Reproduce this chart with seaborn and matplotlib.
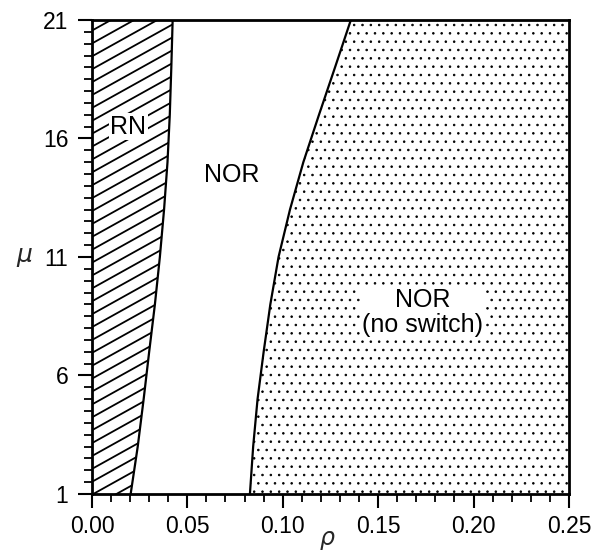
import numpy as np
import matplotlib
matplotlib.use("Agg")
import matplotlib.pyplot as plt
from matplotlib.patches import Polygon
from matplotlib.ticker import MultipleLocator, FixedLocator
import seaborn as sns

# -------------------------------
# Data
# -------------------------------
mu = [1, 3, 5, 7, 9, 11, 13, 15, 17, 19, 21]
# RN / NOR boundary
rho_left = [0.0203, 0.0240, 0.0271, 0.0300, 0.0330, 0.0356, 0.0378, 0.0396, 0.0408, 0.0416, 0.0423]
# NOR / NOR (no switch) boundary
rho_right = [0.0828, 0.0845, 0.0868, 0.0900, 0.0935, 0.0978, 0.1038, 0.1108, 0.1190, 0.1274, 0.1357]

x_ticks = [0.00, 0.05, 0.10, 0.15, 0.20, 0.25]
y_ticks = [1, 6, 11, 16, 21]

region_labels = ["RN", "NOR", "NOR\n(no switch)"]
label_pos = [(0.0190, 16.5), (0.0735, 14.45), (0.1735, 8.65)]

# -------------------------------
# Style
# -------------------------------
sns.set_style("ticks")
plt.rcParams["font.family"] = ["Liberation Sans", "DejaVu Sans"]
plt.rcParams["hatch.linewidth"] = 0.6
plt.rcParams["text.color"] = "black"

fig = plt.figure(figsize=(5.97, 5.55), dpi=100)
ax = fig.add_axes([0.154, 0.110, 0.799, 0.854])

x_min, x_max = x_ticks[0], x_ticks[-1]
y_min, y_max = y_ticks[0], y_ticks[-1]
mu_arr = np.array(mu)
left_arr = np.array(rho_left)
right_arr = np.array(rho_right)

# stippled region: NOR (no switch)
ax.fill_betweenx(mu_arr, right_arr, x_max, facecolor="white", edgecolor="black",
                 hatch="..", linewidth=0, zorder=1)

# hatched region: RN, slanted hatch lines clipped to the region
rn_poly = np.vstack([[[x_min, y_min]], np.column_stack([left_arr, mu_arr]), [[x_min, y_max]]])
clip = Polygon(rn_poly, closed=True, facecolor="white", edgecolor="none",
               transform=ax.transData, zorder=1)
ax.add_patch(clip)
slope = 0.56
for off in np.arange(-0.6, 1.05, 0.0272):
    xs = np.array([0.0, 1.0])
    ln, = ax.plot(xs, off + slope * xs, color="black", lw=1.3,
                  transform=ax.transAxes, zorder=2)
    ln.set_clip_path(clip)

# boundaries
sns.lineplot(x=left_arr, y=mu_arr, sort=False, estimator=None, color="black",
             lw=1.6, ax=ax, zorder=3)
sns.lineplot(x=right_arr, y=mu_arr, sort=False, estimator=None, color="black",
             lw=1.6, ax=ax, zorder=3)

# region labels with white backing
for txt, (px, py) in zip(region_labels, label_pos):
    ax.text(px, py, txt, ha="center", va="center", fontsize=18, linespacing=1.05,
            color="black", zorder=4,
            bbox=dict(facecolor="white", edgecolor="none", pad=1.0))

# -------------------------------
# Axes
# -------------------------------
ax.set_xlim(x_min, x_max)
ax.set_ylim(y_min, y_max)
ax.xaxis.set_major_locator(FixedLocator(x_ticks))
ax.yaxis.set_major_locator(FixedLocator(y_ticks))
ax.xaxis.set_minor_locator(MultipleLocator(0.01))
ax.yaxis.set_minor_locator(MultipleLocator(0.5))
ax.set_xticklabels([f"{v:.2f}" for v in x_ticks])
ax.set_yticklabels([str(v) for v in y_ticks])
ax.tick_params(which="major", direction="out", length=10, width=1.5, labelsize=16.5,
               color="black", labelcolor="black")
ax.tick_params(axis="x", which="major", pad=5)
ax.tick_params(axis="y", which="major", pad=7)
ax.tick_params(which="minor", direction="out", length=6, width=1.3, color="black")
for s in ax.spines.values():
    s.set_linewidth(2)
    s.set_color("black")
    s.set_zorder(5)

ax.set_xlabel(r"$\rho$", fontsize=17, va="top")
ax.xaxis.set_label_coords(0.494, -0.075)
ax.set_ylabel(r"$\mu$", fontsize=18, rotation=0, va="center", ha="center")
ax.yaxis.set_label_coords(-0.141, 0.50)
ax.grid(False)

fig.savefig("out.png", dpi=100)
